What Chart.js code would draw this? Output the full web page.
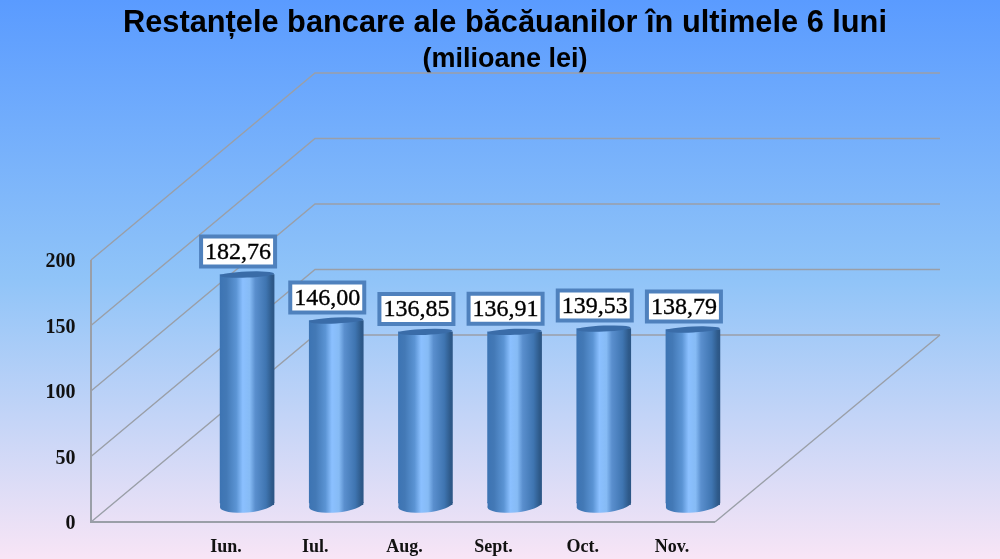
<!DOCTYPE html>
<html><head><meta charset="utf-8">
<style>html,body{margin:0;padding:0;background:#fff}canvas{display:block}</style>
<script src="https://cdn.jsdelivr.net/npm/chart.js@4"></script>
</head><body><canvas id="c" width="1000" height="559"></canvas>
<script>
const categories = ['Iun.','Iul.','Aug.','Sept.','Oct.','Nov.'];
const values = [182.76,146.00,136.85,136.91,139.53,138.79];
const titleText = 'Restanțele bancare ale băcăuanilor în ultimele 6 luni';
const subtitleText = '(milioane lei)';
const yTicks = [0,50,100,150,200];

const depthX = 224, depthY = 187, frontLeft = 91, frontRight = 715;
const barW = 54;

function barGradient(ctx, x){
  if(!Number.isFinite(x)) return '#4379b6';
  const g = ctx.createLinearGradient(x-barW/2,0,x+barW/2,0);
  g.addColorStop(0,'#3d74b3');
  g.addColorStop(0.12,'#4379b6');
  g.addColorStop(0.30,'#5b94d4');
  g.addColorStop(0.42,'#8bc0ff');
  g.addColorStop(0.55,'#86bbf5');
  g.addColorStop(0.65,'#5a8fce');
  g.addColorStop(0.85,'#3f75b1');
  g.addColorStop(0.96,'#2e5a8a');
  g.addColorStop(1,'#2c5686');
  return g;
}
const scene3d = {
  id:'scene3d',
  beforeDraw(chart){
    const {ctx,width,height} = chart;
    const g = ctx.createLinearGradient(0,0,0,height);
    g.addColorStop(0,'#5a9bff');
    g.addColorStop(0.5,'#90c4f8');
    g.addColorStop(1,'#f8e5f6');
    ctx.save();ctx.fillStyle=g;ctx.fillRect(0,0,width,height);ctx.restore();
  },
  beforeDatasetsDraw(chart){
    const {ctx} = chart, y = chart.scales.y;
    ctx.save();
    ctx.strokeStyle='#9a9fa8';ctx.lineWidth=1.4;ctx.lineJoin='miter';
    yTicks.forEach(v=>{
      const py=y.getPixelForValue(v);
      ctx.beginPath();
      ctx.moveTo(frontLeft,py);
      ctx.lineTo(frontLeft+depthX,py-depthY);
      ctx.lineTo(940,py-depthY);
      ctx.stroke();
    });
    const p0=y.getPixelForValue(0), p200=y.getPixelForValue(200);
    ctx.lineWidth=2;
    ctx.beginPath();
    ctx.moveTo(frontLeft,p200);ctx.lineTo(frontLeft,p0);ctx.lineTo(frontRight,p0);
    ctx.stroke();
    ctx.lineWidth=1.4;
    ctx.beginPath();ctx.moveTo(frontRight,p0);ctx.lineTo(940,p0-depthY);ctx.stroke();
    // rounded cylinder bottoms, with a filler joining the tilted ellipse to the bar
    chart.getDatasetMeta(0).data.forEach(el=>{
      const cy=el.base+2, l=el.x-barW/2, r=el.x+barW/2;
      ctx.fillStyle=barGradient(ctx,el.x);
      ctx.beginPath();
      ctx.moveTo(l,el.base-1);ctx.lineTo(r,el.base-1);ctx.lineTo(r,cy);ctx.lineTo(l,cy+2.6);ctx.closePath();
      ctx.fill();
      ctx.beginPath();
      ctx.ellipse(el.x,cy,barW/2+0.1,7.5,-0.09,0,Math.PI*2);
      ctx.fill();
    });
    ctx.restore();
  },
  afterDatasetsDraw(chart){
    const {ctx} = chart;
    ctx.save();
    chart.getDatasetMeta(0).data.forEach((el,i)=>{
      // cylinder top
      ctx.fillStyle='#3a6ca8';
      ctx.beginPath();
      ctx.ellipse(el.x,el.y,barW/2,3,-0.04,0,Math.PI*2);
      ctx.fill();
      // value label
      const bw=74,bh=30,cx=el.x-9,cy=el.y-23;
      ctx.fillStyle='#fff';ctx.strokeStyle='#4f81bd';ctx.lineWidth=4;
      ctx.beginPath();ctx.rect(cx-bw/2,cy-bh/2,bw,bh);ctx.fill();ctx.stroke();
      ctx.fillStyle='#000';ctx.strokeStyle='#000';ctx.lineWidth=0.35;
      ctx.font='24px "Liberation Serif"';
      ctx.textAlign='center';ctx.textBaseline='middle';
      const t=values[i].toFixed(2).replace('.',',');
      ctx.fillText(t,cx,cy+1);ctx.strokeText(t,cx,cy+1);
    });
    ctx.restore();
  }
};
new Chart(document.getElementById('c'),{
  type:'bar',
  plugins:[scene3d],
  data:{labels:categories,datasets:[{
    data:values,yAxisID:'yBar',barThickness:barW,borderWidth:0,clip:false,
    backgroundColor:c=>c.dataIndex===undefined?'#4379b6':barGradient(c.chart.ctx,c.chart.scales.x.getPixelForValue(c.dataIndex))
  }]},
  options:{
    responsive:false,animation:false,devicePixelRatio:1,
    layout:{padding:{left:10}},
    plugins:{
      legend:{display:false},tooltip:{enabled:false},
      title:{display:true,text:titleText,color:'#000',
        font:{family:'"Liberation Sans"',size:30.75,weight:'bold'},padding:{top:5.4,bottom:0}},
      subtitle:{display:true,text:subtitleText,color:'#000',
        font:{family:'"Liberation Sans"',size:27,weight:'bold'},padding:{top:1,bottom:184.3}}
    },
    scales:{
      x:{type:'category',offset:true,grid:{display:false,drawTicks:false},border:{display:false},
        afterFit(s){s.height=37;},
        ticks:{color:'#111',labelOffset:-21,padding:15,maxRotation:0,autoSkip:false,
          font:{family:'"Liberation Serif"',size:18,weight:'bold'}}},
      y:{min:0,max:200,position:'left',grid:{display:false,drawTicks:false},border:{display:false},
        afterFit(s){s.width=192.5;s.paddingTop=0;s.paddingBottom=0;},
        afterBuildTicks(s){s.ticks=yTicks.map(v=>({value:v}));},
        ticks:{color:'#111',padding:127,labelOffset:2,font:{family:'"Liberation Serif"',size:20,weight:'bold'}}},
      yBar:{display:true,position:'right',min:-15.2,max:194.4,
        ticks:{display:false},grid:{display:false},border:{display:false},
        afterFit(s){s.width=262.5;}}
    }
  }
});
</script></body></html>
